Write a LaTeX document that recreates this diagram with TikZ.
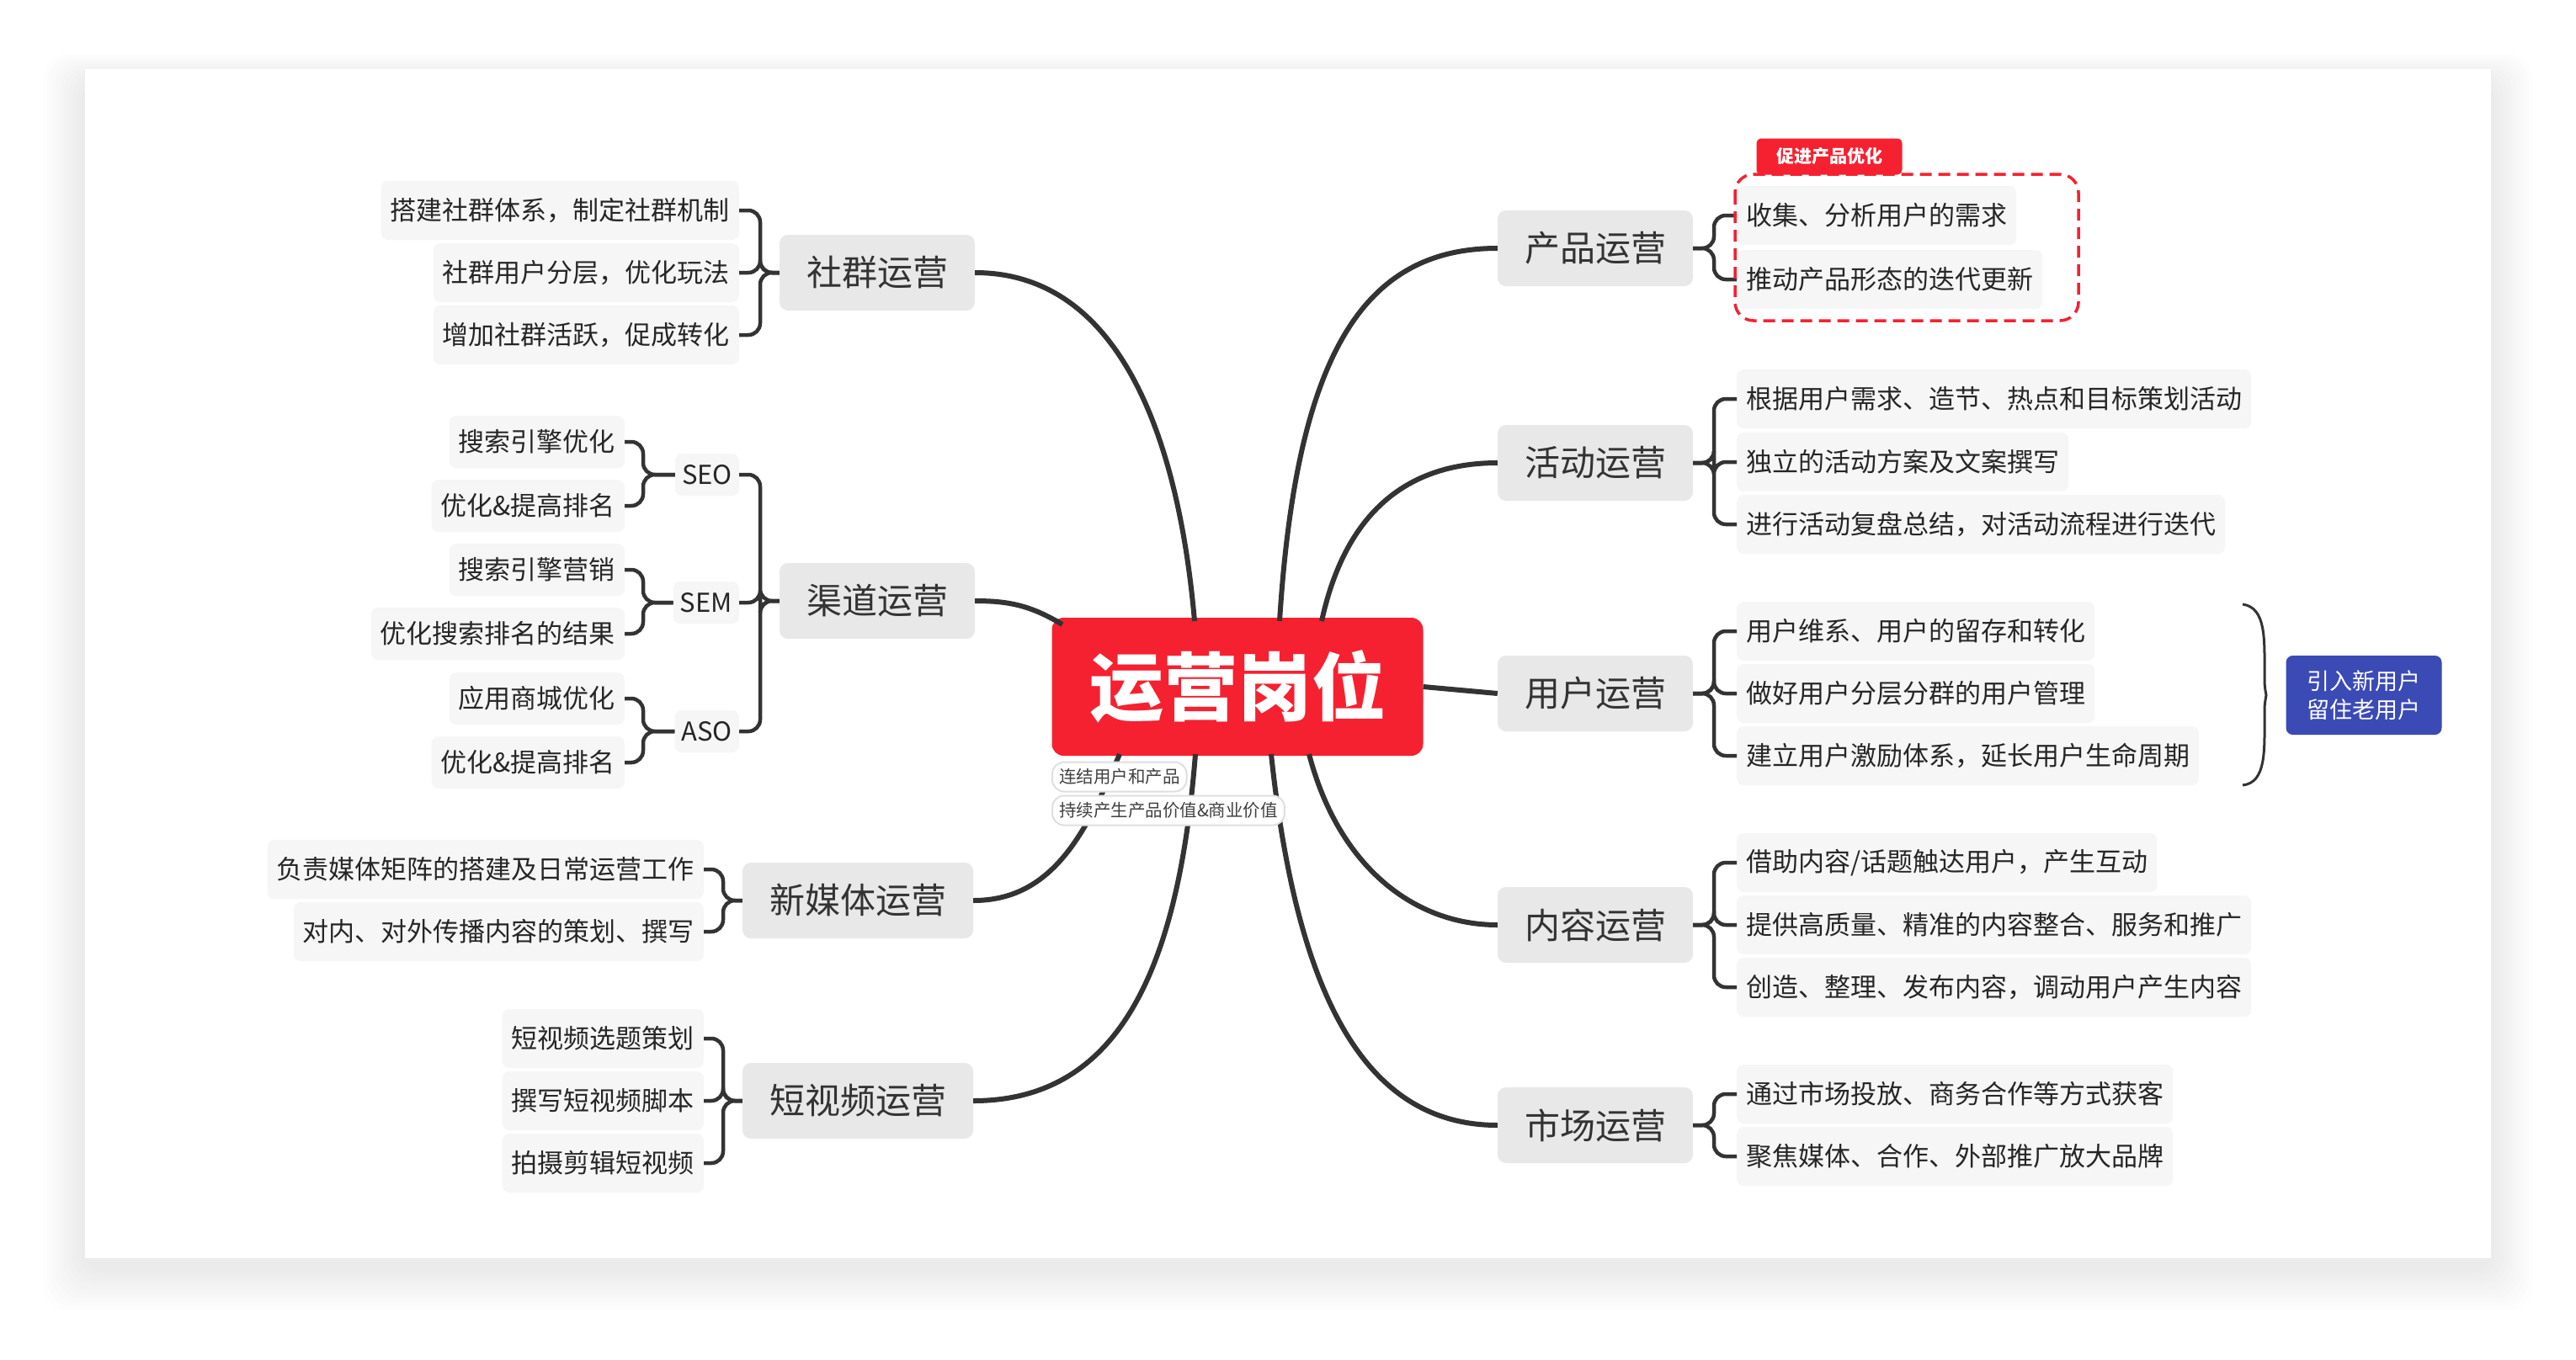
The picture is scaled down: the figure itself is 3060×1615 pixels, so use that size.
\documentclass[tikz,border=0pt]{standalone}
\usepackage{fontspec}
\setmainfont{Noto Sans CJK SC}
\definecolor{xred}{RGB}{245,33,48}
\definecolor{xblue}{RGB}{59,75,181}
\begin{document}
\begin{tikzpicture}[x=1pt,y=-1pt,
  main/.style={fill=gray!18,rounded corners=10pt,text=black!80,font=\fontsize{42}{50}\selectfont,minimum height=90pt,inner xsep=32pt},
  leaf/.style={fill=gray!7,rounded corners=8pt,text=black!85,font=\fontsize{31}{37}\selectfont,minimum height=70pt,inner xsep=11pt},
  sub/.style={fill=gray!7,rounded corners=8pt,text=black!85,font=\fontsize{31}{37}\selectfont,minimum height=50pt,inner xsep=8pt},
  note/.style={draw=gray!25,line width=2pt,fill=white,rounded corners=14pt,text=black!75,font=\fontsize{20.5}{24}\selectfont,minimum height=35pt,inner xsep=8pt,anchor=west},
  con/.style={draw=black!80,line width=6pt},
  br/.style={draw=black!80,line width=4.5pt,rounded corners=14pt}]
\fill[white] (0,0) rectangle (3060,1615);
\foreach \i in {1,...,10}{\fill[black,opacity=0.008,rounded corners=30pt] (101-5*\i,82-3*\i+12) rectangle (2959+5*\i,1495+5*\i+12);}
\fill[white] (101,82) rectangle (2959,1495);
% center
\node[fill=xred,rounded corners=14pt,minimum width=441pt,minimum height=164pt,text=white,font=\fontsize{88}{100}\selectfont\bfseries] (c) at (1470,816) {运营岗位};
% main nodes
\node[main] (p1) at (1895,295) {产品运营};
\node[main] (p2) at (1895,550) {活动运营};
\node[main] (p3) at (1895,824) {用户运营};
\node[main] (p4) at (1895,1099) {内容运营};
\node[main] (p5) at (1895,1337) {市场运营};
\node[main] (q1) at (1042,324) {社群运营};
\node[main] (q2) at (1042,714) {渠道运营};
\node[main] (q3) at (1019,1070) {新媒体运营};
\node[main] (q4) at (1019,1308) {短视频运营};
% center connectors
\coordinate (s1) at (1419,738); \coordinate (s2) at (1262,742);
\coordinate (s3) at (1330,896); \coordinate (s4) at (1420,896);
\coordinate (t1) at (1520,738); \coordinate (t2) at (1570,738);
\coordinate (t4) at (1555,896); \coordinate (t5) at (1510,896);
\draw[con] (s1) .. controls (1400,520) and (1330,324) .. (q1.east);
\draw[con] (s2) .. controls (1225,720) and (1200,714) .. (q2.east);
\draw[con] (s3) .. controls (1290,990) and (1250,1070) .. (q3.east);
\draw[con] (s4) .. controls (1400,1150) and (1330,1308) .. (q4.east);
\draw[con] (t1) .. controls (1540,420) and (1620,295) .. (p1.west);
\draw[con] (t2) .. controls (1600,600) and (1680,550) .. (p2.west);
\draw[con] (c.east) -- (p3.west);
\draw[con] (t4) .. controls (1590,1030) and (1680,1099) .. (p4.west);
\draw[con] (t5) .. controls (1540,1180) and (1620,1337) .. (p5.west);
\node[note] (n1) at (1249,923) {连结用户和产品};
\node[note] (n2) at (1249,963) {持续产生产品价值\&商业价值};
% right leaves
\coordinate (rb) at (2036,0);
\foreach \n/\p/\y/\t in {a1/p1/256/收集、分析用户的需求,a2/p1/332/推动产品形态的迭代更新,
  b1/p2/474/根据用户需求、造节、热点和目标策划活动,b2/p2/549/独立的活动方案及文案撰写,b3/p2/623/进行活动复盘总结，对活动流程进行迭代,
  u1/p3/750/用户维系、用户的留存和转化,u2/p3/824/做好用户分层分群的用户管理,u3/p3/898/建立用户激励体系，延长用户生命周期,
  d1/p4/1025/{借助内容/话题触达用户，产生互动},d2/p4/1099/提供高质量、精准的内容整合、服务和推广,d3/p4/1173/创造、整理、发布内容，调动用户产生内容,
  e1/p5/1300/通过市场投放、商务合作等方式获客,e2/p5/1374/聚焦媒体、合作、外部推广放大品牌}{
  \node[leaf,anchor=west] (\n) at (2063,\y) {\t};
  \draw[br] (\p.east) -| (rb |- \n.west) -- (\n.west);
}
% dashed group
\node[fill=xred,rounded corners=6pt,text=white,font=\fontsize{21}{25}\selectfont\bfseries,minimum width=173pt,minimum height=43pt] (tag) at (2173,186) {促进产品优化};
\draw[xred,line width=3.5pt,dash pattern=on 14pt off 8pt,rounded corners=22pt] (2061,207) rectangle (2469,381);
% brace + summary
\node[fill=xblue,rounded corners=8pt,text=white,font=\fontsize{27}{34}\selectfont,align=center,minimum width=185pt,minimum height=94pt] (sum) at (2808,826) {引入新用户\\留住老用户};
\coordinate (bt) at (2664,718); \coordinate (bb) at (2664,933); \coordinate (bm) at (2692,826);
\draw[black!80,line width=3pt] (bt) .. controls (2692,722) and (2690,760) .. (2690,800) .. controls (2690,815) .. (bm) .. controls (2690,837) .. (2690,852) .. controls (2690,892) and (2692,930) .. (bb);
% left leaves
\coordinate (lb) at (903,0);
\foreach \n/\p/\y/\t in {f1/q1/250/搭建社群体系，制定社群机制,f2/q1/324/社群用户分层，优化玩法,f3/q1/398/增加社群活跃，促成转化}{
  \node[leaf,anchor=east] (\n) at (878,\y) {\t};
  \draw[br] (\p.west) -| (lb |- \n.east) -- (\n.east);
}
\foreach \n/\y/\t in {g1/564/SEO,g2/716/SEM,g3/869/ASO}{
  \node[sub,anchor=east] (\n) at (878,\y) {\t};
  \draw[br] (q2.west) -| (lb |- \n.east) -- (\n.east);
}
\coordinate (lc) at (764,0);
\foreach \n/\p/\y/\t in {h1/g1/525/搜索引擎优化,h2/g1/601/优化\&提高排名,h3/g2/677/搜索引擎营销,h4/g2/753/优化搜索排名的结果,h5/g3/830/应用商城优化,h6/g3/906/优化\&提高排名}{
  \node[leaf,anchor=east,minimum height=62pt] (\n) at (742,\y) {\t};
  \draw[br] (\p.west) -| (lc |- \n.east) -- (\n.east);
}
\coordinate (ld) at (859,0);
\foreach \n/\p/\y/\t in {k1/q3/1033/负责媒体矩阵的搭建及日常运营工作,k2/q3/1107/对内、对外传播内容的策划、撰写,m1/q4/1234/短视频选题策划,m2/q4/1308/撰写短视频脚本,m3/q4/1382/拍摄剪辑短视频}{
  \node[leaf,anchor=east] (\n) at (836,\y) {\t};
  \draw[br] (\p.west) -| (ld |- \n.east) -- (\n.east);
}
\end{tikzpicture}
\end{document}
